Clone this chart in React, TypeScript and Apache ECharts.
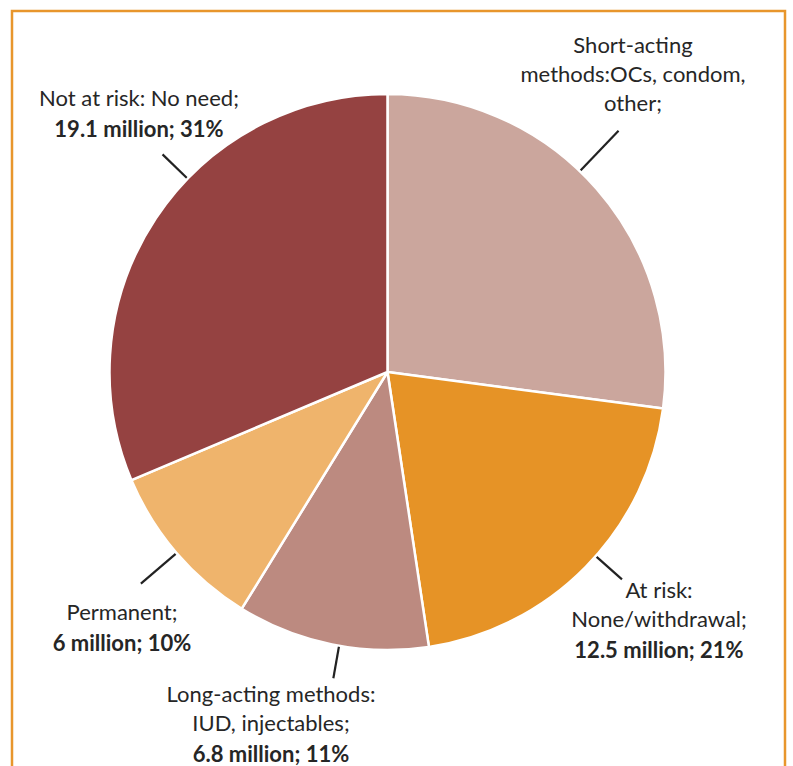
import React, { useEffect, useRef } from "react";
import * as echarts from "echarts";

const categories = [
  "Short-acting\nmethods:OCs, condom,\nother;",
  "At risk:\nNone/withdrawal;",
  "Long-acting methods:\nIUD, injectables;",
  "Permanent;",
  "Not at risk: No need;",
];
const valuesMillion = [16.5, 12.5, 6.8, 6, 19.1];
const showValue = [false, true, true, true, true];

const colors = ["#CBA69D", "#E69326", "#BC8A80", "#EFB46C", "#954241"];
const lineLengths = [56, 35, 33, 47, 35];
const lineAngleOffsets = [5, 3, 1.5, 0, -10.5];
const labelPos = [
  [633, 73],
  [659, 620],
  [271, 724],
  [122, 628],
  [139, 114],
];
const CX = 387.5;
const CY = 372;

export default function App() {
  const ref = useRef<HTMLDivElement>(null);
  useEffect(() => {
    if (!ref.current) return;
    const chart = echarts.init(ref.current, null, { renderer: "svg" });
    chart.setOption({
      animation: false,
      backgroundColor: "#ffffff",
      graphic: [
        {
          type: "rect",
          shape: { x: 12, y: 11, width: 773, height: 800 },
          style: { fill: "none", stroke: "#E8962C", lineWidth: 2.5 },
          silent: true,
        },
      ],
      series: [
        {
          type: "pie",
          center: [CX, CY],
          radius: 278,
          startAngle: 90,
          clockwise: true,
          itemStyle: { borderColor: "#ffffff", borderWidth: 2.5 },
          emphasis: { disabled: true },
          label: {
            show: true,
            position: "outside",
            overflow: "none",
            formatter: (p: any) => {
              const lines = String(p.name)
                .split("\n")
                .map((l: string) => `{n|${l}}`);
              if (showValue[p.dataIndex]) {
                lines.push(`{b|${p.value} million; ${Math.round(p.percent)}%}`);
              }
              return lines.join("\n");
            },
            rich: {
              n: {
                fontFamily: "Lato",
                fontSize: 22,
                lineHeight: 29,
                color: "#262626",
              },
              b: {
                fontFamily: "Lato",
                fontSize: 22,
                fontWeight: "bold",
                lineHeight: 33,
                color: "#262626",
              },
            },
          },
          labelLine: {
            show: true,
            length: 40,
            length2: 0,
            lineStyle: { color: "#222222", width: 2.2 },
          },
          labelLayout: (params: any) => {
            const i = params.dataIndex;
            const pos = labelPos[i];
            let pts = params.labelLinePoints;
            if (pts && pts.length >= 2) {
              const off = (lineAngleOffsets[i] * Math.PI) / 180;
              pts = pts.map((p: number[]) => {
                const dx = p[0] - CX;
                const dy = p[1] - CY;
                const r = Math.sqrt(dx * dx + dy * dy);
                const a = Math.atan2(-dy, dx) + off;
                return [CX + r * Math.cos(a), CY - r * Math.sin(a)];
              });
            }
            return {
              x: pos[0],
              y: pos[1],
              align: "center",
              verticalAlign: "middle",
              labelLinePoints: pts,
            };
          },
          data: categories.map((name, i) => ({
            name,
            value: valuesMillion[i],
            itemStyle: { color: colors[i] },
            labelLine: { length: lineLengths[i], length2: 0 },
          })),
        },
      ],
    });
    return () => chart.dispose();
  }, []);
  return (
    <div
      ref={ref}
      style={{ position: "fixed", left: 0, top: 0, width: 793, height: 766 }}
    />
  );
}
